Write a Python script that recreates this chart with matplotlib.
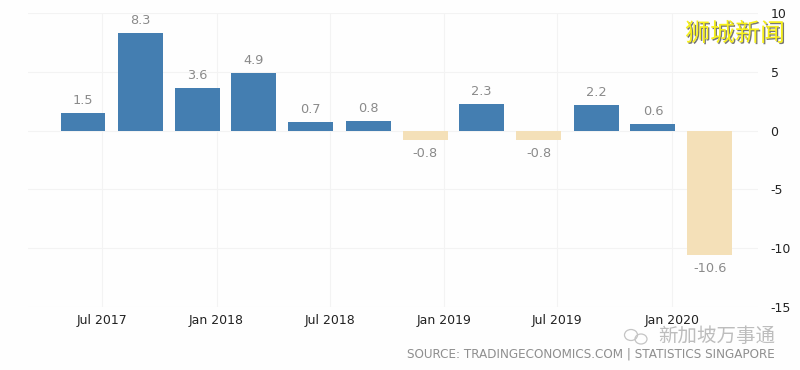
import matplotlib
matplotlib.use("Agg")
import matplotlib.pyplot as plt
import matplotlib.dates as mdates
import matplotlib.patheffects as pe
from matplotlib.patches import Ellipse
from datetime import date

quarters = [date(2017,6,1), date(2017,9,1), date(2017,12,1), date(2018,3,1), date(2018,6,1), date(2018,9,1),
            date(2018,12,1), date(2019,3,1), date(2019,6,1), date(2019,9,1), date(2019,12,1), date(2020,3,1)]
values = [1.5, 8.3, 3.6, 4.9, 0.7, 0.8, -0.8, 2.3, -0.8, 2.2, 0.6, -10.6]
value_labels = ["1.5", "8.3", "3.6", "4.9", "0.7", "0.8", "-0.8", "2.3", "-0.8", "2.2", "0.6", "-10.6"]
tick_dates = [date(2017,7,1), date(2018,1,1), date(2018,7,1), date(2019,1,1), date(2019,7,1), date(2020,1,1)]
tick_labels = ["Jul 2017", "Jan 2018", "Jul 2018", "Jan 2019", "Jul 2019", "Jan 2020"]
y_ticks = [-15, -10, -5, 0, 5, 10]
source = "SOURCE: TRADINGECONOMICS.COM | STATISTICS SINGAPORE"

W, H = 800, 370
FONT = "DejaVu Sans"
plt.rcParams["font.family"] = ["Noto Sans CJK SC", "DejaVu Sans"]
fig = plt.figure(figsize=(W/100, H/100), dpi=100, facecolor="#fefefe")
ax = fig.add_axes([28/W, 1-307/H, (758-28)/W, (307-13)/H], facecolor="#fefefe")

x = mdates.date2num(quarters)
px_per_day = 57/91.31
x0 = x[0] - (83-28)/px_per_day
ax.set_xlim(x0, x0 + (758-28)/px_per_day)
ax.set_ylim(-15, 10)

colors = ["#447eb1" if v >= 0 else "#f4e0b8" for v in values]
ax.bar(x, values, width=45/px_per_day, color=colors, zorder=3)

for xi, v, s in zip(x, values, value_labels):
    off = 6 if v >= 0 else -7
    ax.annotate(s, (xi, v), xytext=(0, off*0.72), textcoords="offset points",
                ha="center", va="bottom" if v >= 0 else "top",
                fontsize=9.3, color="#8a8a8a", family=FONT, zorder=4)

ax.set_xticks(mdates.date2num(tick_dates))
ax.set_xticklabels(tick_labels, family=FONT, fontsize=9, color="#222222")
ax.set_yticks(y_ticks)
ax.yaxis.tick_right()
ax.set_yticklabels([str(t) for t in y_ticks], family=FONT, fontsize=9, color="#222222", ha="left")
ax.tick_params(axis="both", length=0)
ax.tick_params(axis="x", pad=5)
ax.tick_params(axis="y", pad=9)
ax.grid(True, color="#f3f3f3", lw=0.8, zorder=0)
for s in ax.spines.values():
    s.set_visible(False)

fig.text(775/W, 1-354/H, source, ha="right", va="center", family=FONT, fontsize=8.67, color="#8f8f8f")
fig.text(775/W, 1-336/H, "新加坡万事通", ha="right", va="center", fontsize=14, color="#bdbdbd")
fig.add_artist(Ellipse((631/W, 1-335/H), 13/W, 11/H, fill=False, ec="#c4c4c4", lw=0.9, transform=fig.transFigure))
fig.add_artist(Ellipse((641/W, 1-339/H), 12/W, 10/H, fill=False, ec="#c4c4c4", lw=0.9, transform=fig.transFigure))
fig.text(785/W, 1-34/H, "狮城新闻", ha="right", va="center", fontsize=18, color="#f7f01a",
         path_effects=[pe.SimplePatchShadow(offset=(0.9, -0.9), shadow_rgbFace="#555555", alpha=0.8), pe.Normal()])

fig.savefig("out.png", dpi=100, facecolor=fig.get_facecolor())
